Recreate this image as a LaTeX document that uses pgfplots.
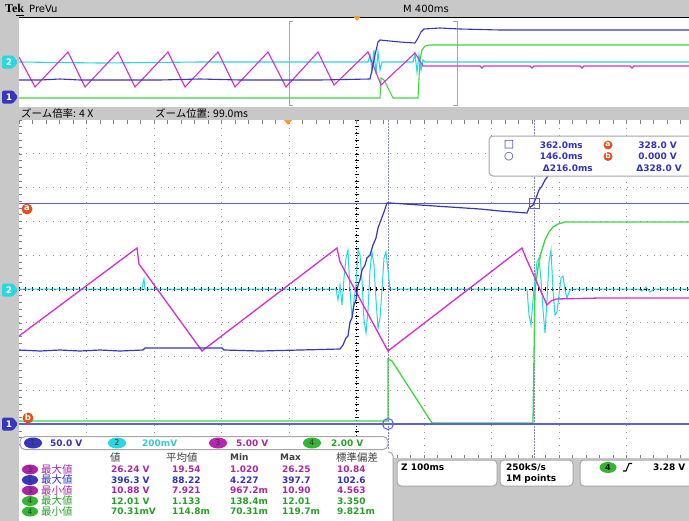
\documentclass[border=0pt]{standalone}
\usepackage{pgfplots}
\pgfplotsset{compat=1.18}
\usepackage{fontspec}
\setmainfont{DejaVu Sans}
\newfontfamily\jp{Noto Sans CJK JP}
\newfontfamily\tekf{Liberation Serif}
\definecolor{bg}{RGB}{200,200,200}
\definecolor{chA}{RGB}{55,55,190}
\definecolor{curs}{RGB}{95,95,215}
\definecolor{cursv}{RGB}{130,130,190}
\definecolor{chB}{RGB}{40,215,225}
\definecolor{chC}{RGB}{215,45,205}
\definecolor{chD}{RGB}{60,215,60}
\definecolor{orng}{RGB}{225,80,30}
\definecolor{trig}{RGB}{240,160,50}
\definecolor{txtB}{RGB}{50,50,190}
\definecolor{txtC}{RGB}{170,40,160}
\definecolor{txtD}{RGB}{40,160,40}
\definecolor{txtCy}{RGB}{60,200,210}
\definecolor{gridc}{RGB}{150,150,150}
\begin{document}
\begin{tikzpicture}[every node/.style={inner sep=0pt, font=\bfseries\fontsize{9}{10}\selectfont}]
\useasboundingbox (0,0) rectangle (689bp,-521bp);
\clip (0,0) rectangle (689bp,-521bp);
\begin{scope}[x=1bp,y=-1bp]
\fill[bg] (0,0) rectangle (689,521);
% overview panel
\fill[white] (19,18) rectangle (689,107);
\draw[black, line width=1bp] (19,17.5) -- (689,17.5);
\draw[gray!70, line width=0.9bp] (293,21) -- (289,21) -- (289,105) -- (293,105);
\draw[gray!70, line width=0.9bp] (453,21) -- (457,21) -- (457,105) -- (453,105);
% main panel
\fill[white] (19,120) rectangle (689,458);
\foreach \gx in {86.5,154,221.5,289,424,491.5,559,626.5}
  \draw[gridc, line width=0.9bp, dash pattern=on 0.9bp off 5.85bp] (\gx,121) -- (\gx,458);
\foreach \gy in {153.8,187.6,221.4,255.2,322.8,356.6,390.4,424.2}
  \draw[gridc, line width=0.9bp, dash pattern=on 0.9bp off 5.85bp] (19,\gy) -- (689,\gy);
\draw[black, line width=0.9bp, dash pattern=on 2.2bp off 2.2bp] (19,289) -- (689,289);
\draw[black, line width=0.9bp, dash pattern=on 1bp off 2bp] (356.5,120) -- (356.5,458);
\foreach \i in {0,...,99} \draw[black, line width=0.6bp] ({19+6.75*\i},287) -- ({19+6.75*\i},291);
\foreach \i in {0,...,50} \draw[black, line width=0.6bp] (354.5,{120+6.76*\i}) -- (358.5,{120+6.76*\i});
\foreach \i in {0,...,50} \draw[gray, line width=0.6bp] (19,{120+6.76*\i}) -- (22,{120+6.76*\i});
\foreach \i in {0,...,50} \draw[gray, line width=0.6bp] ({19+13.5*\i},120) -- ({19+13.5*\i},123.5);
\foreach \i in {0,...,50} \draw[gray, line width=0.6bp] ({19+13.5*\i},458) -- ({19+13.5*\i},454.5);
% cursors
\draw[cursv, line width=0.9bp, dash pattern=on 1.5bp off 1.5bp] (388,120) -- (388,458);
\draw[cursv, line width=0.9bp, dash pattern=on 1.5bp off 1.5bp] (534,120) -- (534,458);
\draw[curs, line width=1.1bp] (19,203.5) -- (689,203.5);
\end{scope}

% overview axis
\begin{axis}[at={(19bp,-107bp)}, anchor=south west, scale only axis, width=670bp, height=89bp,
  xmin=19, xmax=689, ymin=18, ymax=107, y dir=reverse, hide axis]
\addplot[chD, line width=1.1bp] coordinates {(19,98) (380,98) (381,78) (384,80) (393,98) (418,98) (420,60) (422,50) (425,46) (430,45) (689,45)};
\addplot[chB, line width=1.1bp] coordinates {(19,62) (100,63) (200,62) (300,62) (368,62) (370,55) (372,70) (374,50) (376,74) (378,52) (380,70) (382,62) (413,62) (415,54) (417,72) (419,55) (421,70) (423,60) (425,62) (689,62)};
\addplot[chC, line width=1.1bp] coordinates {(19,57) (35,87) (68,52) (85,87) (118,52) (135,87) (168,52) (185,87) (218,52) (235,87) (268,52) (286,87) (318,52) (334,85) (368,52) (381,85) (415,53) (423,66) (430,66) (480,66) (482,68) (484,66) (530,66) (532,68) (534,66) (580,66) (582,68) (584,66) (630,66) (632,68) (634,66) (689,66)};
\addplot[chA, line width=1.1bp] coordinates {(19,80) (40,80) (60,79) (80,80) (120,80) (160,80) (200,79) (240,80) (280,80) (320,80) (370,79) (372,70) (375,55) (378,42) (380,40) (400,42) (415,43) (418,38) (421,32) (424,29) (440,28) (460,29) (500,30) (560,30) (620,30) (689,30)};
\end{axis}

% main axis
\begin{axis}[at={(19bp,-458bp)}, anchor=south west, scale only axis, width=670bp, height=338bp,
  xmin=19, xmax=689, ymin=120, ymax=458, y dir=reverse, hide axis]
\addplot[chD, line width=1.3bp] coordinates {(19,421) (388,421) (388,359) (392,361) (432,423) (533,423) (535,290) (538,268) (541,253) (545,240) (549,232) (553,227) (558,224) (565,222) (689,222)};
\addplot[chB, line width=1bp] coordinates {(19,289) (142,289) (143,283) (144,279) (145,289) (336,289) (338,300) (340,285) (342,305) (344,278) (346,258) (348,250) (350,290) (352,318) (354,300) (356,285) (358,250) (360,255) (362,280) (364,320) (366,333) (368,310) (370,270) (372,252) (374,265) (376,300) (378,328) (380,318) (382,290) (384,258) (386,252) (388,270) (390,289) (527,289) (529,315) (531,325) (533,300) (535,280) (537,262) (539,258) (541,280) (543,310) (545,333) (547,300) (549,262) (551,250) (553,290) (555,315) (557,312) (559,295) (561,278) (563,276) (565,290) (567,298) (569,292) (571,289) (638,289) (642,291) (646,287) (650,292) (654,289) (689,289)};
\addplot[chC, line width=1.3bp] coordinates {(19,336) (137,248) (139,264) (202,351) (337,248) (340,262) (388,351) (522,248) (526,258) (547,305) (551,301) (556,299) (600,298) (689,298)};
\addplot[chA, line width=1.2bp] coordinates {(19,350) (40,351) (60,350) (80,351) (100,350) (120,351) (143,350) (145,348) (180,348) (222,348) (224,350) (260,351) (300,350) (340,349) (343,345) (346,338) (348,336) (350,322) (352,318) (354,305) (356,300) (358,285) (360,280) (362,270) (365,265) (367,258) (370,255) (373,245) (376,238) (378,228) (381,220) (384,212) (387,203) (390,203) (420,205) (450,207) (480,209) (500,211) (527,213) (529,208) (533,205) (536,198) (539,190) (542,186) (545,180) (548,176) (552,168) (556,162) (562,158) (689,157)};
\end{axis}

\begin{scope}[x=1bp,y=-1bp]
% cursor markers
\draw[curs, line width=1.1bp] (19,424) -- (689,424);
\draw[curs, line width=1bp] (529.5,198.5) rectangle (539.5,208.5);
\draw[curs, line width=1bp] (388,424) circle (5.5);
% header
\node[anchor=west, font=\tekf\bfseries\fontsize{12}{12}\selectfont] at (5,8.5) {Tek};
\draw[black, line width=0.7bp] (16,15) -- (24,15);
\node[anchor=west, font=\fontsize{10}{10}\selectfont] at (29,8.5) {PreVu};
\node[font=\fontsize{10}{10}\selectfont] at (426,8.5) {M 400ms};
\fill[trig] (353,16) -- (361,16) -- (357,21) -- cycle;
\fill[trig] (284,120) -- (292,120) -- (288,125) -- cycle;
\node[anchor=west, font=\jp\fontsize{10.5}{11}\selectfont] at (21,113.5) {ズーム倍率: 4 X};
\node[anchor=west, font=\jp\fontsize{10.5}{11}\selectfont] at (155,113.5) {ズーム位置: 99.0ms};
% channel tags
\foreach \yy/\cc/\tt in {62/chB/2, 97/chA/1, 290/chB/2, 424/chA/1}{
  \fill[\cc, rounded corners=1.5bp] (2,\yy-6.5) -- (13,\yy-6.5) -- (18,\yy) -- (13,\yy+6.5) -- (2,\yy+6.5) -- cycle;
  \node[text=white, font=\bfseries\fontsize{9}{9}\selectfont] at (9,\yy) {\tt};
}
\fill[orng] (27,209) circle (5.5);
\node[text=white, font=\bfseries\fontsize{8.5}{9}\selectfont] at (27,208.5) {a};
\fill[orng] (28,418) circle (5.5);
\node[text=white, font=\bfseries\fontsize{8.5}{9}\selectfont] at (28,417.5) {b};
% measurement box
\draw[gray!70, fill=white, line width=1bp, rounded corners=4bp] (489,136) rectangle (700,176);
\node[text=txtB, font=\fontsize{11}{11}\selectfont] at (509,144.5) {□};
\node[text=txtB, font=\fontsize{11}{11}\selectfont] at (509,156.5) {○};
\node[text=txtB, anchor=east] at (583,145) {362.0ms};
\node[text=txtB, anchor=east] at (583,156.5) {146.0ms};
\node[text=txtB, anchor=east] at (593,168) {Δ216.0ms};
\fill[orng] (608,145) circle (4.5);
\node[text=white, font=\bfseries\fontsize{7.5}{8}\selectfont] at (608,144.5) {a};
\fill[orng] (608,156.5) circle (4.5);
\node[text=white, font=\bfseries\fontsize{7.5}{8}\selectfont] at (608,156) {b};
\node[text=txtB, anchor=east] at (677,145) {328.0 V};
\node[text=txtB, anchor=east] at (677,156.5) {0.000 V};
\node[text=txtB, anchor=east] at (682,168) {Δ328.0 V};
% bottom right
\fill[bg] (393,458) rectangle (689,521);
\draw[gray!70, fill=white, line width=1bp, rounded corners=4bp] (397,460) rectangle (497,486);
\draw[gray!70, fill=white, line width=1bp, rounded corners=4bp] (500,460) rectangle (573,486);
\draw[gray!70, fill=white, line width=1bp, rounded corners=4bp] (580,460) rectangle (700,486);
\node[anchor=west] at (401,467.5) {Z 100ms};
\node[anchor=west] at (506,467.5) {250kS/s};
\node[anchor=west] at (506,479) {1M points};
\fill[chD!85!black] (608,467.5) ellipse (8.5 and 5.5);
\node[font=\bfseries\fontsize{8}{8}\selectfont] at (608,467.5) {4};
\draw[black, line width=1.1bp] (623,471) -- (626,471) -- (629,463.5) -- (632,463.5);
\node[anchor=west] at (653,467.5) {3.28 V};
% table
\fill[white] (19,450) rectangle (393,521);
\draw[gray!70, line width=1bp, rounded corners=4bp] (388,452) -- (393,452) -- (393,521);
% channel bar
\draw[gray!70, fill=white, line width=1bp, rounded corners=5bp] (20,436.5) rectangle (388,449.5);
\foreach \xx/\cc/\tt in {33/chA/1, 117/chB/2, 218/chC!85!black/3, 312/chD!85!black/4}{
  \fill[\cc] (\xx,443) ellipse (9 and 5.5);
  \node[text=black!80, font=\fontsize{8}{8}\selectfont] at (\xx,443) {\tt};
}
\node[anchor=west, text=txtB] at (50,443) {50.0 V};
\node[anchor=west, text=txtCy] at (142,443) {200mV};
\node[anchor=west, text=txtC] at (236,443) {5.00 V};
\node[anchor=west, text=txtD] at (331,443) {2.00 V};
\node[anchor=west, text=black!75, font=\jp\fontsize{10.5}{11}\selectfont] at (110,457.5) {値};
\node[anchor=west, text=black!75, font=\jp\fontsize{10.5}{11}\selectfont] at (166,457.5) {平均値};
\node[anchor=west, text=black!75] at (230,457.5) {Min};
\node[anchor=west, text=black!75] at (280,457.5) {Max};
\node[anchor=west, text=black!75, font=\jp\fontsize{10.5}{11}\selectfont] at (336,457.5) {標準偏差};
\foreach \yy/\cc/\mc/\nn/\lab/\va/\vb/\vc/\vd/\ve in {
  469.5/txtC/chC!80!black/3/最大値/26.24 V/19.54/1.020/26.25/10.84,
  480/txtB/chA/1/最大値/396.3 V/88.22/4.227/397.7/102.6,
  490.5/txtC/chC!80!black/3/最小値/10.88 V/7.921/967.2m/10.90/4.563,
  501/txtD/chD!85!black/4/最大値/12.01 V/1.133/138.4m/12.01/3.350,
  511.5/txtD/chD!85!black/4/最小値/70.31mV/114.8m/70.31m/119.7m/9.821m}{
  \fill[\mc] (30,\yy) ellipse (8 and 5);
  \node[text=black!80, font=\fontsize{7.5}{8}\selectfont] at (30,\yy) {\nn};
  \node[anchor=west, text=\cc, font=\jp\fontsize{10.5}{11}\selectfont] at (41,\yy) {\lab};
  \node[anchor=west, text=\cc] at (111,\yy) {\va};
  \node[anchor=west, text=\cc] at (172,\yy) {\vb};
  \node[anchor=west, text=\cc] at (230,\yy) {\vc};
  \node[anchor=west, text=\cc] at (282,\yy) {\vd};
  \node[anchor=west, text=\cc] at (337,\yy) {\ve};
}
\end{scope}
\end{tikzpicture}
\end{document}
